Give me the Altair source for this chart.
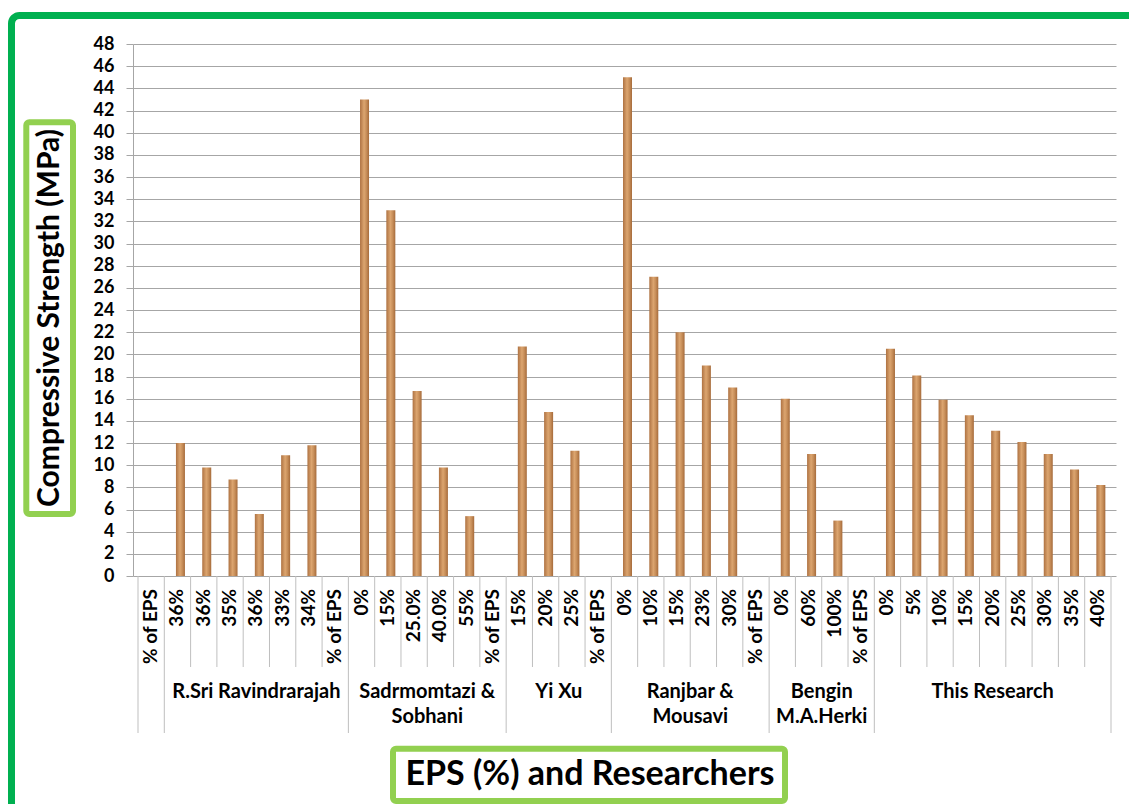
import altair as alt
import pandas as pd

# ---------------- data ----------------
categories = ["% of EPS", "36%", "36%", "35%", "36%", "33%", "34%", "% of EPS",
              "0%", "15%", "25.0%", "40.0%", "55%", "% of EPS",
              "15%", "20%", "25%", "% of EPS",
              "0%", "10%", "15%", "23%", "30%", "% of EPS",
              "0%", "60%", "100%", "% of EPS",
              "0%", "5%", "10%", "15%", "20%", "25%", "30%", "35%", "40%"]
strength = [None, 12.0, 9.8, 8.7, 5.6, 10.9, 11.8, None,
            43.0, 33.0, 16.7, 9.8, 5.4, None,
            20.7, 14.8, 11.3, None,
            45.0, 27.0, 22.0, 19.0, 17.0, None,
            16.0, 11.0, 5.0, None,
            20.5, 18.1, 15.9, 14.5, 13.1, 12.1, 11.0, 9.6, 8.2]
groups = ["", "R.Sri Ravindrarajah", "Sadrmomtazi &\nSobhani", "Yi Xu",
          "Ranjbar &\nMousavi", "Bengin\nM.A.Herki", "This Research"]
group_sizes = [1, 7, 6, 4, 6, 4, 9]
y_ticks = list(range(0, 50, 2))

N = len(categories)
W, H = 983, 532
FONT = "Lato"
GRID = "#A6A6A6"

cat_df = pd.DataFrame({"pos": [i + 0.5 for i in range(N)],
                       "label": categories, "value": strength})
bar_df = cat_df.dropna()

starts = []
s = 0
for g in group_sizes:
    starts.append(s)
    s += g
group_bounds = starts + [N]
grp_df = pd.DataFrame({"center": [st + g / 2 for st, g in zip(starts, group_sizes)],
                       "group": groups})
long_df = pd.DataFrame({"b": group_bounds})
short_df = pd.DataFrame({"b": [b for b in range(N + 1) if b not in group_bounds]})

xscale = alt.Scale(domain=[0, N], nice=False, zero=False)
one = alt.Data(values=[{}])

bars = alt.Chart(bar_df).mark_bar(
    size=9, xOffset=3,
    fill=alt.Gradient(gradient="linear", x1=0, x2=1, y1=0, y2=0,
                      stops=[alt.GradientStop(color="#AE7242", offset=0),
                             alt.GradientStop(color="#DCA56F", offset=0.45),
                             alt.GradientStop(color="#C88F5A", offset=0.7),
                             alt.GradientStop(color="#A66B3B", offset=1)])
).encode(
    x=alt.X("pos:Q", scale=xscale, axis=None),
    y=alt.Y("value:Q", scale=alt.Scale(domain=[0, 48], nice=False),
            axis=alt.Axis(values=y_ticks, title=None, grid=True,
                          gridColor=GRID, gridWidth=1,
                          domainColor=GRID, tickColor=GRID, tickSize=7,
                          labelFont=FONT, labelFontWeight="bold",
                          labelFontSize=18, labelColor="black",
                          labelPadding=12))
)

cat_labels = alt.Chart(cat_df).mark_text(
    angle=270, align="right", baseline="middle",
    font=FONT, fontWeight="bold", fontSize=19, color="black"
).encode(x=alt.X("pos:Q", scale=xscale), y=alt.value(H + 13), text="label:N")

short_rules = alt.Chart(short_df).mark_rule(color="#BFBFBF", strokeWidth=1).encode(
    x=alt.X("b:Q", scale=xscale), y=alt.value(H), y2=alt.value(H + 91))
long_rules = alt.Chart(long_df).mark_rule(color="#BFBFBF", strokeWidth=1).encode(
    x=alt.X("b:Q", scale=xscale), y=alt.value(H), y2=alt.value(H + 157))

grp_labels = alt.Chart(grp_df).mark_text(
    align="center", baseline="top", lineBreak="\n", lineHeight=25,
    font=FONT, fontWeight="bold", fontSize=20, color="black"
).encode(x=alt.X("center:Q", scale=xscale), y=alt.value(H + 106), text="group:N")

frame = alt.Chart(one).mark_rect(
    filled=False, stroke="#00B050", strokeWidth=7, cornerRadius=8
).encode(x=alt.value(-121.5), x2=alt.value(1010), y=alt.value(-28.5), y2=alt.value(820))

ybox = alt.Chart(one).mark_rect(
    fill="white", stroke="#92D050", strokeWidth=6, cornerRadius=3
).encode(x=alt.value(-106.7), x2=alt.value(-60), y=alt.value(78.3), y2=alt.value(470))
ytitle = alt.Chart(one).mark_text(
    text="Compressive Strength (MPa)", angle=270, align="center", baseline="middle",
    font=FONT, fontWeight="bold", fontSize=30, color="black"
).encode(x=alt.value(-83.3), y=alt.value(274))

xbox = alt.Chart(one).mark_rect(
    fill="white", stroke="#92D050", strokeWidth=6, cornerRadius=3
).encode(x=alt.value(260), x2=alt.value(652), y=alt.value(704.7), y2=alt.value(757))
xtitle = alt.Chart(one).mark_text(
    text="EPS (%) and Researchers", align="center", baseline="middle",
    font=FONT, fontWeight="bold", fontSize=34, color="black"
).encode(x=alt.value(457), y=alt.value(731))

chart = alt.layer(
    frame, bars, short_rules, long_rules, cat_labels, grp_labels,
    ybox, ytitle, xbox, xtitle
).properties(
    width=W, height=H,
    autosize=alt.AutoSizeParams(type="none"),
    padding={"left": 125, "top": 36, "right": 13, "bottom": 228},
    background="white"
).configure_view(stroke=None)

chart.save("out.html", embed_options={"renderer": "svg", "actions": False})
